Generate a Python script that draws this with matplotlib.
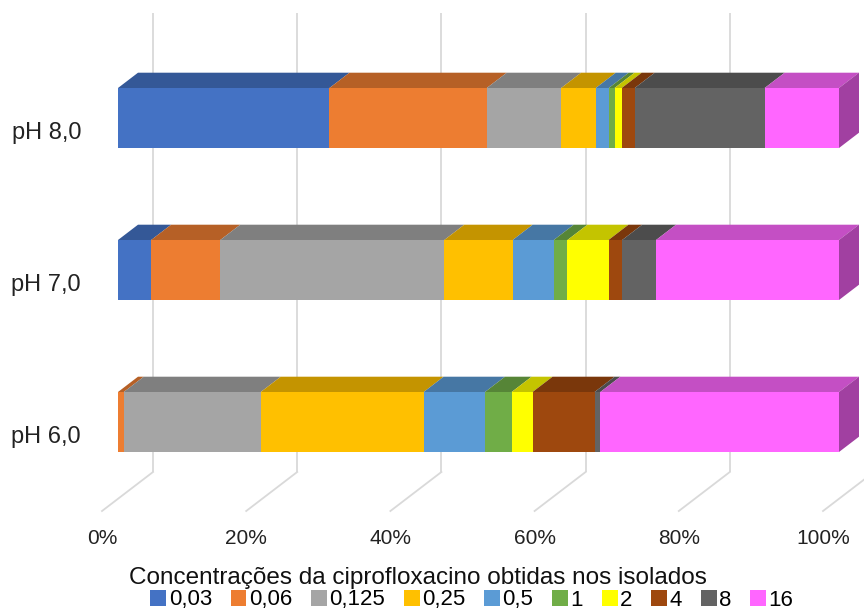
import matplotlib.pyplot as plt
from matplotlib.patches import Polygon, Patch
import numpy as np

plt.rcParams['font.family'] = ['Liberation Sans', 'DejaVu Sans']

categories = ['pH 6,0', 'pH 7,0', 'pH 8,0']
concentrations = ['0,03', '0,06', '0,125', '0,25', '0,5', '1', '2', '4', '8', '16']
colors = ['#4472C4', '#ED7D31', '#A5A5A5', '#FFC000', '#5B9BD5',
          '#70AD47', '#FFFF00', '#9E480E', '#636363', '#FF66FF']

# share of isolates (%) at each ciprofloxacin concentration
ph6 = [0.0, 0.8, 19.0, 22.6, 8.5, 3.7, 2.9, 8.6, 0.8, 33.1]
ph7 = [4.6, 9.6, 31.1, 9.5, 5.7, 1.9, 5.7, 1.9, 4.7, 25.4]
ph8 = [29.3, 21.8, 10.3, 4.8, 1.8, 0.8, 1.0, 1.8, 18.0, 10.3]
x_ticks = [0, 20, 40, 60, 80, 100]

axis_title = 'Concentrações da ciprofloxacino obtidas nos isolados'


def shade(color, factor):
    rgb = np.array(plt.matplotlib.colors.to_rgb(color))
    return tuple(rgb * factor)


fig = plt.figure(figsize=(8.64, 6.12), dpi=100)
ax = fig.add_axes([0, 0, 1, 1])
ax.axis('off')

# x in percent, y in pixel rows (inverted) -> oblique 3D look
x0, sx = 118, 7.21
ax.set_xlim(-x0 / sx, (864 - x0) / sx)
ax.set_ylim(612, 0)

slope = 0.765
bar_dx = 20 / sx           # bar depth
bar_dy = 20 * slope
wall_dx = 35 / sx          # back wall behind bar front
floor_dx = 16 / sx         # floor front ahead of bar front
wall_top, wall_bottom = 13, 472
floor_front = wall_bottom + (35 + 16) * slope

# gridlines on the back wall and floor
for t in x_ticks:
    xb = t + wall_dx
    ax.plot([xb, xb], [wall_top, wall_bottom], color='#D9D9D9', lw=1.3,
            zorder=1, solid_capstyle='butt')
    ax.plot([xb, t - floor_dx], [wall_bottom, floor_front], color='#D9D9D9',
            lw=1.3, zorder=1)
    ax.text(t - floor_dx, 538, f'{t}%', ha='center', va='center',
            fontsize=15, color='#222222')

rows = [ph6, ph7, ph8]
y_centers = [422, 270, 118]
bar_h = 60

for name, vals, yc in zip(categories, rows, y_centers):
    vals = np.array(vals, dtype=float)
    vals = vals / vals.sum() * 100
    lefts = np.concatenate([[0], np.cumsum(vals)[:-1]])
    top = yc - bar_h / 2
    last = np.nonzero(vals > 0)[0][-1]
    for i, (l, w) in enumerate(zip(lefts, vals)):
        if w <= 0:
            continue
        r = l + w
        ax.barh(yc, w, left=l, height=bar_h, color=colors[i], zorder=3,
                linewidth=0)
        ax.add_patch(Polygon([(l, top), (l + bar_dx, top - bar_dy),
                              (r + bar_dx, top - bar_dy), (r, top)],
                             closed=True, facecolor=shade(colors[i], 0.77),
                             edgecolor='none', zorder=2))
        if i == last:
            ax.add_patch(Polygon([(r, top), (r + bar_dx, top - bar_dy),
                                  (r + bar_dx, top + bar_h - bar_dy),
                                  (r, top + bar_h)],
                                 closed=True,
                                 facecolor=shade(colors[i], 0.63),
                                 edgecolor='none', zorder=2))
    ax.text(-(x0 - 81) / sx, yc + 15, name, ha='right', va='center',
            fontsize=17, color='#222222')

# axis title and legend sit on separate centres
ax.text((418 - x0) / sx, 578, axis_title, ha='center', va='center',
        fontsize=17.5, color='#111111')

handles = [Patch(facecolor=c, edgecolor='none') for c in colors]
fig.legend(handles, concentrations, loc='center',
           bbox_to_anchor=(472 / 864, 1 - 600 / 612),
           ncol=10, frameon=False, fontsize=16,
           handlelength=0.7, handleheight=0.7, handletextpad=0.12,
           columnspacing=0.85, borderpad=0, labelspacing=0)

fig.savefig('out.png', dpi=100)
plt.close(fig)
